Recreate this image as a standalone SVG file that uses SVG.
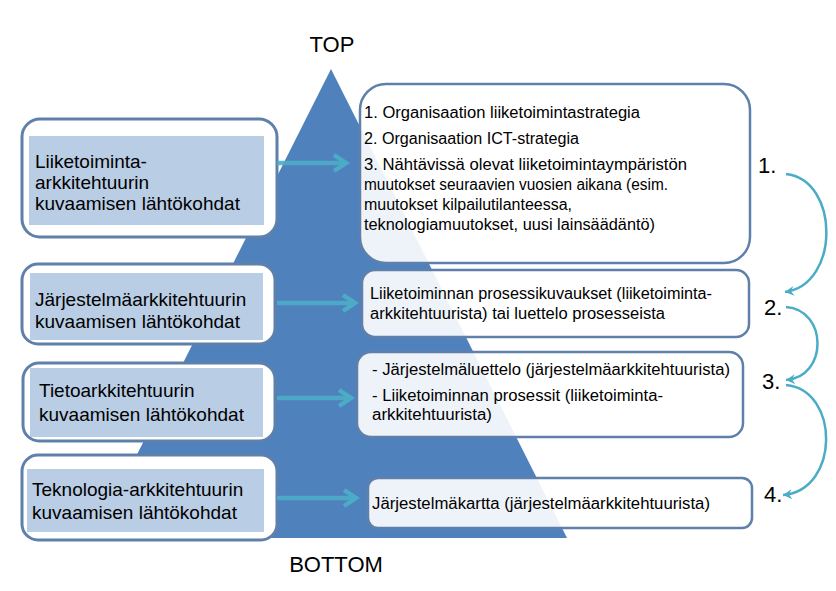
<svg xmlns="http://www.w3.org/2000/svg" width="836" height="591" viewBox="0 0 836 591">
<style>
  text { font-family: "Liberation Sans", Arial, sans-serif; fill: #000; }
  .outer { fill: #ffffff; stroke: #5f80aa; stroke-width: 3; }
  .inner { fill: #b9cde5; }
  .lt { font-size: 19px; }
  .rbox { fill: #ffffff; fill-opacity: 0.9; stroke: #5f80aa; stroke-width: 2.5; }
  .rt { font-size: 16px; }
  .num { font-size: 22px; }
  .lbl { font-size: 22px; text-anchor: middle; }
  .conn { fill: none; stroke: #4bacc6; stroke-width: 4.5; stroke-opacity: 0.9; }
  .curve { fill: none; stroke: #4bacc6; stroke-width: 2.5; }
</style>
<defs>
  <marker id="chev" markerUnits="userSpaceOnUse" markerWidth="24" markerHeight="24" viewBox="-14 -12 24 24" refX="0" refY="0" orient="auto">
    <path d="M-12,-8 L0,0 L-12,8" fill="none" stroke="#4bacc6" stroke-width="4.5" stroke-linejoin="miter"/>
  </marker>
  <marker id="tip" markerUnits="userSpaceOnUse" markerWidth="14" markerHeight="14" viewBox="-10 -7 14 14" refX="0" refY="0" orient="auto">
    <path d="M-9,-5 L0,0 L-9,5 L-6,0 Z" fill="#4bacc6"/>
  </marker>
</defs>

<g id="pyramid">
  <polygon points="331,69 567,538 95,538" fill="#4f81bd"/>
</g>

<text class="lbl" x="332" y="52">TOP</text>
<text class="lbl" x="336" y="572">BOTTOM</text>

<g id="left1">
  <rect class="outer" x="22" y="119" width="255" height="118" rx="18"/>
  <rect class="inner" x="29" y="136" width="235" height="89"/>
  <text class="lt" x="35" y="168">Liiketoiminta-</text>
  <text class="lt" x="35" y="189">arkkitehtuurin</text>
  <text class="lt" x="35" y="210">kuvaamisen lähtökohdat</text>
</g>
<g id="left2">
  <rect class="outer" x="22" y="264" width="253" height="80" rx="16"/>
  <rect class="inner" x="30" y="273" width="233" height="67"/>
  <text class="lt" x="35" y="306">Järjestelmäarkkitehtuurin</text>
  <text class="lt" x="35" y="328">kuvaamisen lähtökohdat</text>
</g>
<g id="left3">
  <rect class="outer" x="23" y="363" width="252" height="78" rx="16"/>
  <rect class="inner" x="30" y="368" width="233" height="69"/>
  <text class="lt" x="39" y="397">Tietoarkkitehtuurin</text>
  <text class="lt" x="39" y="421">kuvaamisen lähtökohdat</text>
</g>
<g id="left4">
  <rect class="outer" x="22" y="455" width="255" height="85" rx="16"/>
  <rect class="inner" x="27" y="469" width="237" height="63"/>
  <text class="lt" x="32" y="496">Teknologia-arkkitehtuurin</text>
  <text class="lt" x="32" y="519">kuvaamisen lähtökohdat</text>
</g>

<g id="right1">
  <rect class="rbox" x="360" y="84" width="390" height="179" rx="26"/>
  <text class="rt" x="364" y="118" textLength="276" lengthAdjust="spacingAndGlyphs">1. Organisaation liiketoimintastrategia</text>
  <text class="rt" x="364" y="144" textLength="215" lengthAdjust="spacingAndGlyphs">2. Organisaation ICT-strategia</text>
  <text class="rt" x="364" y="170" textLength="323" lengthAdjust="spacingAndGlyphs">3. Nähtävissä olevat liiketoimintaympäristön</text>
  <text class="rt" x="364" y="190" textLength="304" lengthAdjust="spacingAndGlyphs">muutokset seuraavien vuosien aikana (esim.</text>
  <text class="rt" x="364" y="210" textLength="208" lengthAdjust="spacingAndGlyphs">muutokset kilpailutilanteessa,</text>
  <text class="rt" x="364" y="230" textLength="291" lengthAdjust="spacingAndGlyphs">teknologiamuutokset, uusi lainsäädäntö)</text>
</g>
<g id="right2">
  <rect class="rbox" x="362" y="270" width="387" height="67" rx="13"/>
  <text class="rt" x="370" y="299" textLength="342" lengthAdjust="spacingAndGlyphs">Liiketoiminnan prosessikuvaukset (liiketoiminta-</text>
  <text class="rt" x="370" y="319" textLength="295" lengthAdjust="spacingAndGlyphs">arkkitehtuurista) tai luettelo prosesseista</text>
</g>
<g id="right3">
  <rect class="rbox" x="357" y="352" width="386" height="85" rx="14"/>
  <text class="rt" x="372" y="375" textLength="358" lengthAdjust="spacingAndGlyphs">- Järjestelmäluettelo (järjestelmäarkkitehtuurista)</text>
  <text class="rt" x="372" y="401" textLength="291" lengthAdjust="spacingAndGlyphs">- Liiketoiminnan prosessit (liiketoiminta-</text>
  <text class="rt" x="372" y="420" textLength="120" lengthAdjust="spacingAndGlyphs">arkkitehtuurista)</text>
</g>
<g id="right4">
  <rect class="rbox" x="368" y="478" width="384" height="50" rx="10"/>
  <text class="rt" x="372" y="509" textLength="338" lengthAdjust="spacingAndGlyphs">Järjestelmäkartta (järjestelmäarkkitehtuurista)</text>
</g>

<g id="n1"><text class="num" x="758" y="173">1.</text></g>
<g id="n2"><text class="num" x="764" y="315">2.</text></g>
<g id="n3"><text class="num" x="762" y="389">3.</text></g>
<g id="n4"><text class="num" x="764" y="502">4.</text></g>

<g id="connectors">
  <path class="conn" d="M277,163 L346,163" marker-end="url(#chev)"/>
  <path class="conn" d="M277,303 L355,303" marker-end="url(#chev)"/>
  <path class="conn" d="M277,398 L351,398" marker-end="url(#chev)"/>
  <path class="conn" d="M277,498 L356,498" marker-end="url(#chev)"/>
  <path class="curve" d="M786,174 C840,180 840,285 785,292" marker-end="url(#tip)"/>
  <path class="curve" d="M786,307 C828,310 828,377 786,380" marker-end="url(#tip)"/>
  <path class="curve" d="M786,385 C840,390 840,490 783,495" marker-end="url(#tip)"/>
</g>
</svg>
